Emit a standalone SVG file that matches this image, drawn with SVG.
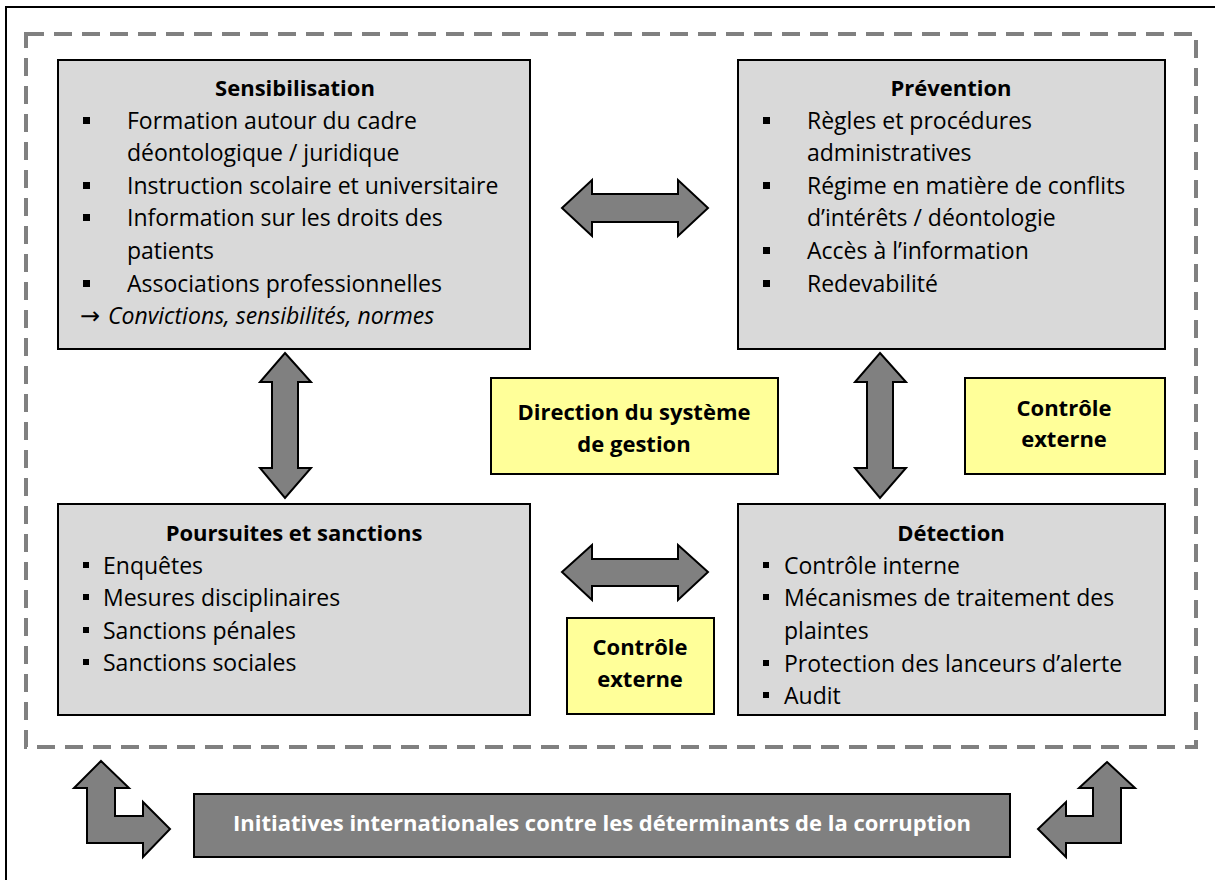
<svg xmlns="http://www.w3.org/2000/svg" width="1215" height="880" viewBox="0 0 1215 880">
  <style>
    .frame { fill: none; stroke: #000; stroke-width: 2; }
    .dash { fill: none; stroke: #808080; stroke-width: 4; stroke-dasharray: 18 10; }
    .box { fill: #d9d9d9; stroke: #000; stroke-width: 2; }
    .note { fill: #ffff99; stroke: #000; stroke-width: 2; }
    .dark { fill: #808080; stroke: #000; stroke-width: 2; }
    .arrow { fill: #808080; stroke: #000; stroke-width: 2; stroke-linejoin: miter; }
    text { font-family: "Open Sans", "Liberation Sans", sans-serif; font-size: 23px; fill: #000; }
    .title { font-weight: bold; text-anchor: middle; font-size: 22px; }
    .center { font-weight: bold; text-anchor: middle; font-size: 22px; }
    .white { fill: #fff; font-weight: bold; text-anchor: middle; font-size: 22px; }
    .glyph { font-family: "DejaVu Sans", sans-serif; font-size: 24px; }
    .bullet { fill: #000; }
  </style>
  <defs>
    <rect id="sq" width="7" height="7" class="bullet"/>
    <rect id="sm" width="6" height="6" class="bullet"/>
  </defs>

  <rect x="0" y="0" width="1215" height="880" fill="#fff"/>
  <rect x="6" y="7" width="1220" height="890" class="frame"/>
  <rect x="26" y="34" width="1170" height="713" class="dash"/>

  <g id="sensibilisation">
    <rect x="58" y="60" width="472" height="289" class="box"/>
    <text x="295" y="96" class="title">Sensibilisation</text>
    <use href="#sq" x="83" y="117"/>
    <text x="127" y="129">Formation autour du cadre</text>
    <text x="127" y="161">déontologique / juridique</text>
    <use href="#sq" x="83" y="182"/>
    <text x="127" y="194">Instruction scolaire et universitaire</text>
    <use href="#sq" x="83" y="214"/>
    <text x="127" y="226">Information sur les droits des</text>
    <text x="127" y="259">patients</text>
    <use href="#sq" x="83" y="280"/>
    <text x="127" y="292">Associations professionnelles</text>
    <text x="80" y="324" class="glyph">→</text>
    <text x="108" y="324" font-style="italic">Convictions, sensibilités, normes</text>
  </g>

  <g id="prevention">
    <rect x="738" y="60" width="427" height="289" class="box"/>
    <text x="951" y="96" class="title">Prévention</text>
    <use href="#sq" x="763" y="117"/>
    <text x="807" y="129">Règles et procédures</text>
    <text x="807" y="161">administratives</text>
    <use href="#sq" x="763" y="182"/>
    <text x="807" y="194">Régime en matière de conflits</text>
    <text x="807" y="226">d’intérêts / déontologie</text>
    <use href="#sq" x="763" y="247"/>
    <text x="807" y="259">Accès à l’information</text>
    <use href="#sq" x="763" y="280"/>
    <text x="807" y="292">Redevabilité</text>
  </g>

  <g id="direction">
    <rect x="491" y="378" width="287" height="96" class="note"/>
    <text x="634" y="420" class="center">Direction du système</text>
    <text x="634" y="452" class="center">de gestion</text>
  </g>

  <g id="controle-externe-1">
    <rect x="965" y="378" width="200" height="96" class="note"/>
    <text x="1064" y="416" class="center">Contrôle</text>
    <text x="1064" y="447" class="center">externe</text>
  </g>

  <g id="poursuites">
    <rect x="58" y="504" width="472" height="211" class="box"/>
    <text x="294" y="541" class="title">Poursuites et sanctions</text>
    <use href="#sm" x="83" y="562"/>
    <text x="103" y="574">Enquêtes</text>
    <use href="#sm" x="83" y="594"/>
    <text x="103" y="606">Mesures disciplinaires</text>
    <use href="#sm" x="83" y="627"/>
    <text x="103" y="639">Sanctions pénales</text>
    <use href="#sm" x="83" y="659"/>
    <text x="103" y="671">Sanctions sociales</text>
  </g>

  <g id="detection">
    <rect x="738" y="504" width="427" height="211" class="box"/>
    <text x="951" y="541" class="title">Détection</text>
    <use href="#sm" x="763" y="562"/>
    <text x="784" y="574">Contrôle interne</text>
    <use href="#sm" x="763" y="594"/>
    <text x="784" y="606">Mécanismes de traitement des</text>
    <text x="784" y="639">plaintes</text>
    <use href="#sm" x="763" y="660"/>
    <text x="784" y="672">Protection des lanceurs d’alerte</text>
    <use href="#sm" x="763" y="692"/>
    <text x="784" y="704">Audit</text>
  </g>

  <g id="controle-externe-2">
    <rect x="567" y="618" width="147" height="96" class="note"/>
    <text x="640" y="655" class="center">Contrôle</text>
    <text x="640" y="687" class="center">externe</text>
  </g>

  <g id="initiatives">
    <rect x="194" y="794" width="816" height="63" class="dark"/>
    <text x="602" y="831" class="white">Initiatives internationales contre les déterminants de la corruption</text>
  </g>

  <g id="connectors">
    <!-- top horizontal double arrow -->
    <polygon class="arrow" points="562,208 592,180 592,194 678,194 678,180 708,208 678,236 678,222 592,222 592,236"/>
    <!-- bottom horizontal double arrow -->
    <polygon class="arrow" points="562,572 592,545 592,559 678,559 678,545 708,572 678,600 678,586 592,586 592,600"/>
    <!-- left vertical double arrow -->
    <polygon class="arrow" points="285,353 311,382 298,382 298,468 311,468 285,498 260,468 272,468 272,382 260,382"/>
    <!-- right vertical double arrow -->
    <polygon class="arrow" points="880,353 906,382 893,382 893,468 906,468 880,498 855,468 867,468 867,382 855,382"/>
    <!-- bottom-left bent arrow -->
    <polygon class="arrow" points="101,761 129,788 115,788 115,816 143,816 143,802 170,829 143,857 143,843 87,843 87,788 74,788"/>
    <!-- bottom-right bent arrow -->
    <polygon class="arrow" points="1107,762 1135,788 1121,788 1121,843 1066,843 1066,857 1038,829 1066,802 1066,816 1093,816 1093,788 1079,788"/>
  </g>
</svg>
